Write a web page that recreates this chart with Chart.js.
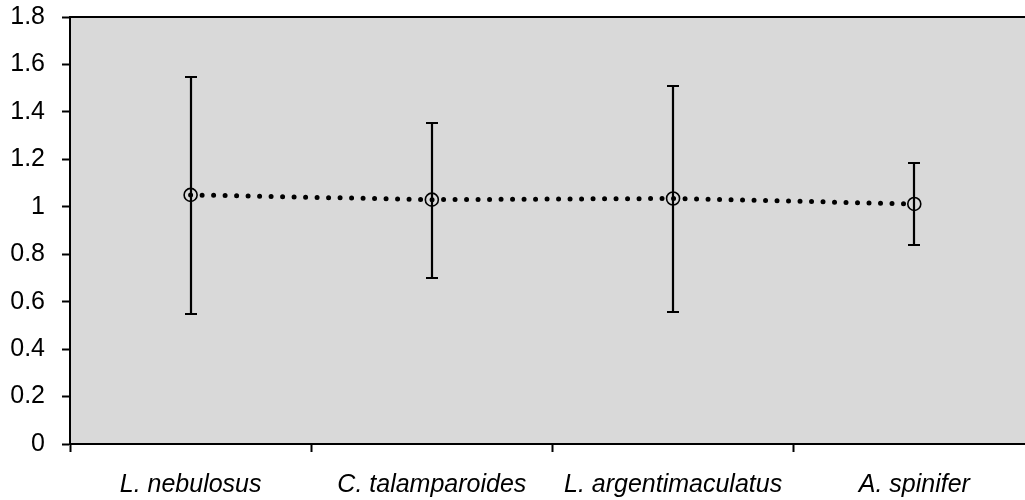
<!DOCTYPE html>
<html lang="en">
<head>
  <meta charset="UTF-8">
  <title>Species ratio</title>
  <script src="https://cdn.jsdelivr.net/npm/chart.js"></script>
  <style>
    html, body { margin: 0; padding: 0; background: #fff; overflow: hidden; }
    #wrap { width: 1025px; height: 500px; overflow: hidden; }
  </style>
</head>
<body>
  <div id="wrap"><canvas id="chart" width="1043" height="500"></canvas></div>

  <script>
    // Data
    const species = ['L. nebulosus', 'C. talamparoides', 'L. argentimaculatus', 'A. spinifer'];
    const means = [1.05, 1.03, 1.035, 1.012];
    const lower = [0.548, 0.70, 0.558, 0.838];
    const upper = [1.548, 1.352, 1.508, 1.183];
    const yTicks = [0, 0.2, 0.4, 0.6, 0.8, 1, 1.2, 1.4, 1.6, 1.8];

    const FONT = "'Liberation Sans', Arial, sans-serif";

    // grey plot area + top border line
    const plotBox = {
      id: 'plotBox',
      beforeDraw(chart) {
        const { ctx, chartArea: a } = chart;
        ctx.save();
        ctx.fillStyle = '#d9d9d9';
        ctx.fillRect(a.left, a.top, a.right - a.left, a.bottom - a.top);
        ctx.strokeStyle = '#000';
        ctx.lineWidth = 2;
        ctx.beginPath();
        ctx.moveTo(a.left - 1, a.top);
        ctx.lineTo(chart.width, a.top);
        ctx.stroke();
        ctx.restore();
      }
    };

    // vertical error bars with caps
    const errorBars = {
      id: 'errorBars',
      afterDatasetsDraw(chart) {
        const { ctx, scales: { x, y } } = chart;
        ctx.save();
        ctx.strokeStyle = '#000';
        ctx.lineWidth = 2.2;
        species.forEach((s, i) => {
          const px = Math.round(x.getPixelForValue(i));
          const top = Math.round(y.getPixelForValue(upper[i]));
          const bot = Math.round(y.getPixelForValue(lower[i]));
          ctx.beginPath();
          ctx.moveTo(px, top);
          ctx.lineTo(px, bot);
          ctx.moveTo(px - 6, top);
          ctx.lineTo(px + 6, top);
          ctx.moveTo(px - 6, bot);
          ctx.lineTo(px + 6, bot);
          ctx.stroke();
        });
        ctx.restore();
      }
    };

    new Chart(document.getElementById('chart'), {
      type: 'line',
      data: {
        labels: species,
        datasets: [{
          data: means,
          borderColor: '#000',
          borderWidth: 5,
          borderDash: [0, 11.5],
          borderCapStyle: 'round',
          pointRadius: 6.5,
          pointBorderWidth: 1.6,
          pointBorderColor: '#000',
          pointBackgroundColor: 'rgba(0,0,0,0)',
          tension: 0
        }]
      },
      options: {
        responsive: false,
        animation: false,
        layout: { padding: { top: 17, right: 0, left: 0, bottom: 0 } },
        plugins: { legend: { display: false }, tooltip: { enabled: false } },
        scales: {
          x: {
            offset: true,
            grid: { offset: true, drawOnChartArea: false, tickLength: 8, tickColor: '#000', tickWidth: 2 },
            border: { color: '#000', width: 2 },
            ticks: { color: '#000', padding: 18, maxRotation: 0, font: { family: FONT, size: 25, style: 'italic' } },
            afterFit(scale) {
              scale.height = 56;
              scale.paddingLeft = 0;
              scale.paddingRight = 0;
            }
          },
          y: {
            min: 0,
            max: 1.8,
            afterBuildTicks(scale) { scale.ticks = yTicks.map(v => ({ value: v })); },
            grid: { drawOnChartArea: false, tickLength: 8, tickColor: '#000', tickWidth: 2 },
            border: { color: '#000', width: 2 },
            ticks: {
              color: '#000',
              padding: 17,
              font: { family: FONT, size: 25 },
              callback: v => String(Number(v.toFixed(1)))
            },
            afterFit(scale) {
              scale.width = 70;
              scale.paddingTop = 0;
              scale.paddingBottom = 0;
            }
          }
        }
      },
      plugins: [plotBox, errorBars]
    });
  </script>
</body>
</html>
